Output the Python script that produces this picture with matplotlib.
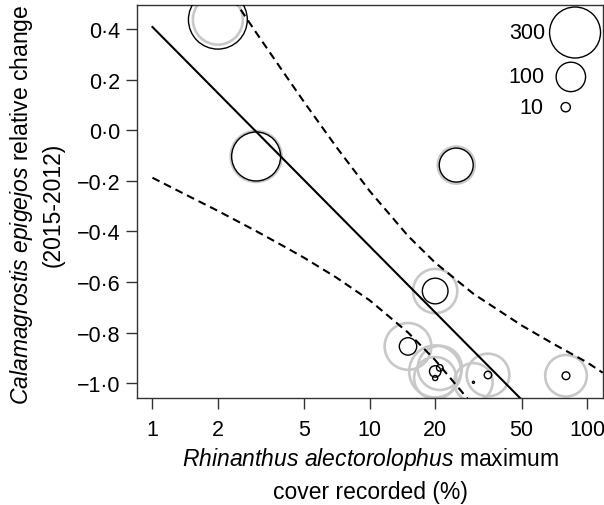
import matplotlib

matplotlib.use("Agg")
import matplotlib.pyplot as plt

# one entry per plot: Rhinanthus maximum cover (%) and Calamagrostis relative change
rhinanthus_cover = [2, 3, 25, 20, 15, 20, 21, 20, 35, 30, 80]
calamagrostis_change = [0.437, -0.104, -0.138, -0.636, -0.855, -0.954, -0.94, -0.98, -0.968, -0.997, -0.971]
# Calamagrostis amount shown as circle area: 2012 (grey) and 2015 (black)
amount_2012 = [288, 300, 158, 226, 252, 312, 225, 205, 210, 170, 200]
amount_2015 = [400, 277, 133, 76, 35, 15, 5, 3, 6.5, 0.5, 7]

# fitted line and confidence band
fit_x = [1, 118]
fit_y = [0.408, -1.389]
band_x = [1, 1.5, 2, 2.5, 3, 4, 5, 7, 10, 15, 20, 30, 50, 70, 100, 118]
band_upper = [0.998, 0.771, 0.610, 0.487, 0.386, 0.230, 0.110, -0.065, -0.241, -0.418,
              -0.524, -0.647, -0.772, -0.845, -0.918, -0.959]
band_lower = [-0.188, -0.265, -0.319, -0.363, -0.399, -0.458, -0.505, -0.582, -0.673, -0.800,
              -0.909, -1.089, -1.347, -1.526, -1.720, -1.820]

legend_values = [300, 100, 10]
x_ticks = [1, 2, 5, 10, 20, 50, 100]
y_ticks = [-1.0, -0.8, -0.6, -0.4, -0.2, 0.0, 0.2, 0.4]

AREA_PER_UNIT = 4.49  # points^2 per unit of amount

plt.rcParams["font.family"] = ["Liberation Sans", "DejaVu Sans"]
plt.rcParams["mathtext.fontset"] = "custom"
plt.rcParams["mathtext.rm"] = "Liberation Sans"
plt.rcParams["mathtext.it"] = "Liberation Sans:italic"

fig = plt.figure(figsize=(6.04, 5.06), dpi=100)
ax = fig.add_axes([137 / 604, 107 / 506, 466 / 604, 393 / 506])

ax.scatter(rhinanthus_cover, calamagrostis_change, s=[AREA_PER_UNIT * v for v in amount_2012],
           facecolors="none", edgecolors="#c8c8c8", linewidths=1.9, zorder=2)
ax.scatter(rhinanthus_cover, calamagrostis_change, s=[AREA_PER_UNIT * v for v in amount_2015],
           facecolors="none", edgecolors="black", linewidths=1.0, zorder=3)

ax.plot(fit_x, fit_y, color="black", linewidth=1.5, zorder=4)
ax.plot(band_x, band_upper, color="black", linewidth=1.5, linestyle=(0, (3.8, 2.4)), zorder=4)
ax.plot(band_x, band_lower, color="black", linewidth=1.5, linestyle=(0, (3.8, 2.4)), zorder=4)

# size key in the top right corner
key_x = [0.940, 0.931, 0.920]
key_y = [0.930, 0.817, 0.740]
ax.scatter(key_x, key_y, s=[AREA_PER_UNIT * v for v in legend_values], transform=ax.transAxes,
           facecolors="none", edgecolors="black", linewidths=1.0, clip_on=False, zorder=5)
for x, y, v in zip([0.876, 0.874, 0.872], key_y, legend_values):
    ax.text(x, y, str(v), transform=ax.transAxes, ha="right", va="center", fontsize=15.5)

ax.set_xscale("log")
ax.set_xlim(0.849, 118.4)
ax.set_ylim(-1.059, 0.495)
ax.set_xticks(x_ticks)
ax.set_xticklabels([str(t) for t in x_ticks])
ax.xaxis.set_minor_locator(matplotlib.ticker.NullLocator())
ax.set_yticks(y_ticks)
ax.set_yticklabels([f"{t:.1f}".replace(".", "\u00b7").replace("-", "\u2212") for t in y_ticks])
ax.tick_params(axis="both", direction="out", length=8, width=1.0, labelsize=15.5, color="#333333")
ax.tick_params(axis="x", pad=7)
ax.tick_params(axis="y", pad=4)
for spine in ax.spines.values():
    spine.set_linewidth(1.0)
    spine.set_color("#333333")

fig.text(36 / 604, 1 - 205 / 506,
         "$\\it{Calamagrostis\\ epigejos}$ relative change\n(2015-2012)",
         rotation=90, ha="center", va="center", multialignment="center", fontsize=16.5, linespacing=1.35)
fig.text(370 / 604, 1 - 475 / 506,
         "$\\it{Rhinanthus\\ alectorolophus}$ maximum\ncover recorded (%)",
         ha="center", va="center", multialignment="center", fontsize=16.5, linespacing=1.4)

fig.savefig("out.png", dpi=100)
